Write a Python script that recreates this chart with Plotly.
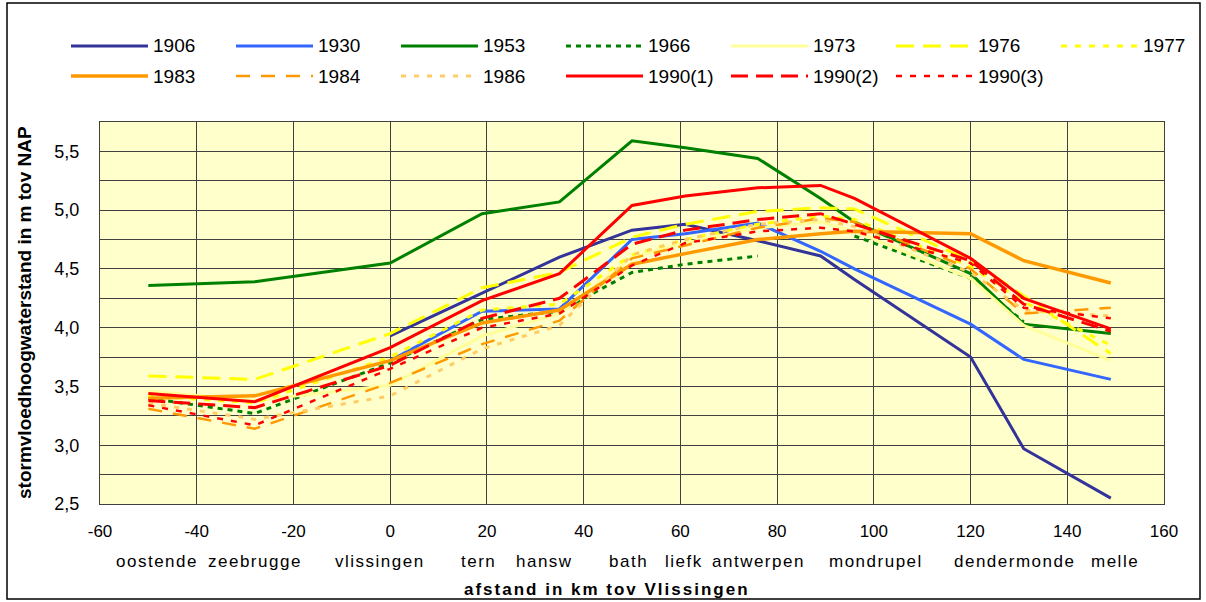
import plotly.graph_objects as go

# afstand (km tov Vlissingen) van de meetpunten
km = [-50, -28, 0, 19, 35, 50, 61, 76, 89, 96, 120, 131, 149]

# stormvloedhoogwaterstanden (m tov NAP), None = geen meting
h1906 = [None, None, 3.93, 4.29, 4.60, 4.83, 4.88, 4.74, 4.61, 4.41, 3.75, 2.97, 2.55]
h1930 = [None, None, 3.72, 4.14, 4.16, 4.75, 4.80, 4.89, 4.65, 4.50, 4.03, 3.73, 3.56]
h1953 = [4.36, 4.39, 4.55, 4.97, 5.07, 5.59, 5.53, 5.44, 5.10, 4.90, 4.46, 4.03, 3.95]
h1966 = [3.40, 3.27, 3.70, 4.07, 4.14, 4.47, 4.54, 4.61, None, 4.78, 4.42, 4.05, None]
h1973 = [3.46, 3.38, 3.51, 3.93, 4.12, 4.60, 4.72, 4.85, 4.90, 4.82, 4.42, 4.02, 3.72]
h1976 = [3.59, 3.56, 3.95, 4.34, 4.47, 4.77, 4.88, 4.99, 5.02, 5.01, 4.57, 4.27, 3.78]
h1977 = [3.42, 3.36, 3.75, 4.15, 4.20, 4.62, 4.75, 4.88, 4.95, 4.92, 4.52, 4.22, 3.85]
h1983 = [3.40, 3.42, 3.72, 4.04, 4.15, 4.54, 4.63, 4.75, 4.80, 4.82, 4.80, 4.57, 4.38]
h1984 = [3.31, 3.14, 3.53, 3.86, 4.06, 4.59, 4.70, 4.85, 4.93, 4.90, 4.50, 4.12, 4.17]
h1986 = [3.36, 3.22, 3.42, 3.82, 4.02, 4.62, 4.75, 4.88, 4.92, 4.86, 4.47, 4.15, 4.10]
h1990_1 = [3.44, 3.37, 3.83, 4.23, 4.46, 5.04, 5.12, 5.19, 5.21, 5.10, 4.59, 4.25, 3.99]
h1990_2 = [3.38, 3.32, 3.68, 4.08, 4.25, 4.71, 4.83, 4.92, 4.97, 4.88, 4.57, 4.20, 3.97]
h1990_3 = [3.34, 3.17, 3.65, 4.00, 4.12, 4.53, 4.72, 4.82, 4.85, 4.82, 4.55, 4.17, 4.08]

namen = ["1906", "1930", "1953", "1966", "1973", "1976", "1977",
         "1983", "1984", "1986", "1990(1)", "1990(2)", "1990(3)"]
reeksen = [h1906, h1930, h1953, h1966, h1973, h1976, h1977,
           h1983, h1984, h1986, h1990_1, h1990_2, h1990_3]

plaatsen = ["oostende", "zeebrugge", "vlissingen", "tern", "hansw", "bath",
            "liefk", "antwerpen", "mondrupel", "dendermonde", "melle"]

xticks = [-60, -40, -20, 0, 20, 40, 60, 80, 100, 120, 140, 160]
yticks = [2.5, 3.0, 3.5, 4.0, 4.5, 5.0, 5.5]

# lijnstijl per reeks: kleur, dash, dikte
stijl = {
    "1906": ("#333399", "solid", 3),
    "1930": ("#3366FF", "solid", 3),
    "1953": ("#008000", "solid", 3),
    "1966": ("#008000", "5px,5px", 3),
    "1973": ("#FFFF99", "solid", 3),
    "1976": ("#FFFF00", "18px,9px", 3),
    "1977": ("#FFFF00", "6px,8px", 3),
    "1983": ("#FF9900", "solid", 3.5),
    "1984": ("#FF9900", "14px,11px", 2.5),
    "1986": ("#FFCC66", "5px,8px", 3),
    "1990(1)": ("#FF0000", "solid", 3),
    "1990(2)": ("#FF0000", "17px,8px", 3),
    "1990(3)": ("#FF0000", "6px,8px", 2.5),
}

FONT = "Liberation Sans, Arial, sans-serif"
W, H = 1206, 602
L, R, T, B = 100, 42, 122, 98
pw, ph = W - L - R, H - T - B


def px2x(px):
    return (px - L) / pw


def px2y(py):
    return (H - B - py) / ph


fig = go.Figure()
for naam, y in zip(namen, reeksen):
    kleur, dash, dikte = stijl[naam]
    fig.add_trace(go.Scatter(x=km, y=y, mode="lines", name=naam,
                             line=dict(color=kleur, dash=dash, width=dikte),
                             connectgaps=False, showlegend=False))

# legenda in twee rijen, zoals in het origineel
shapes = []
annos = []
for i, naam in enumerate(namen):
    rij = i // 7
    kol = i % 7
    kleur, dash, dikte = stijl[naam]
    x0 = 71 + kol * 165
    ypx = 46 + rij * 30
    shapes.append(dict(type="line", xref="paper", yref="paper",
                       x0=px2x(x0), x1=px2x(x0 + 77), y0=px2y(ypx), y1=px2y(ypx),
                       line=dict(color=kleur, dash=dash, width=dikte)))
    annos.append(dict(text=naam, xref="paper", yref="paper", x=px2x(x0 + 80), y=px2y(ypx),
                      xanchor="left", yanchor="middle", showarrow=False,
                      font=dict(size=19, color="black", family=FONT)))

# plaatsnamen onder de as
plaats_px = [157, 255, 380, 478, 544, 628, 684, 758, 876, 1014, 1115]
for naam, p in zip(plaatsen, plaats_px):
    annos.append(dict(text=f'<span style="letter-spacing:1.5px">{naam}</span>',
                      xref="paper", yref="paper", x=px2x(p), y=px2y(561),
                      xanchor="center", yanchor="middle", showarrow=False,
                      font=dict(size=17, color="black", family=FONT)))

annos.append(dict(text='<span style="letter-spacing:2px"><b>afstand in km tov Vlissingen</b></span>',
                  xref="paper", yref="paper",
                  x=px2x(607), y=px2y(589), xanchor="center", yanchor="middle",
                  showarrow=False, font=dict(size=17, color="black", family=FONT)))
annos.append(dict(text="<b>stormvloedhoogwaterstand in m tov NAP</b>", xref="paper", yref="paper",
                  x=px2x(24), y=px2y(313), xanchor="center", yanchor="middle", textangle=-90,
                  showarrow=False, font=dict(size=19, color="black", family=FONT)))

# buitenrand
shapes.append(dict(type="rect", xref="paper", yref="paper",
                   x0=px2x(7), x1=px2x(1200), y0=px2y(599), y1=px2y(3),
                   line=dict(color="black", width=1.5), layer="below"))

fig.update_layout(
    width=W, height=H,
    margin=dict(l=L, r=R, t=T, b=B),
    paper_bgcolor="white",
    plot_bgcolor="#FFFFCC",
    font=dict(family=FONT, size=16, color="black"),
    shapes=shapes,
    annotations=annos,
    xaxis=dict(range=[-60, 160], tickvals=xticks, ticktext=[str(v) for v in xticks],
               showgrid=True, gridcolor="#404040", gridwidth=1, zeroline=False,
               showline=True, linecolor="#404040", mirror=True, ticks="",
               tickfont=dict(size=17), ticklabelstandoff=12),
    yaxis=dict(range=[2.5, 5.75], tickvals=yticks,
               ticktext=[f"{v:.1f}".replace(".", ",") for v in yticks],
               showgrid=True, gridcolor="#404040", gridwidth=1, zeroline=False,
               showline=True, linecolor="#404040", mirror=True, ticks="",
               tickfont=dict(size=18), ticklabelstandoff=16,
               minor=dict(dtick=0.25, tick0=2.5, showgrid=True, gridcolor="#404040",
                          gridwidth=1)),
)

fig.write_html("out.html", config={"displayModeBar": False},
               post_script="document.body.style.margin='0';")
